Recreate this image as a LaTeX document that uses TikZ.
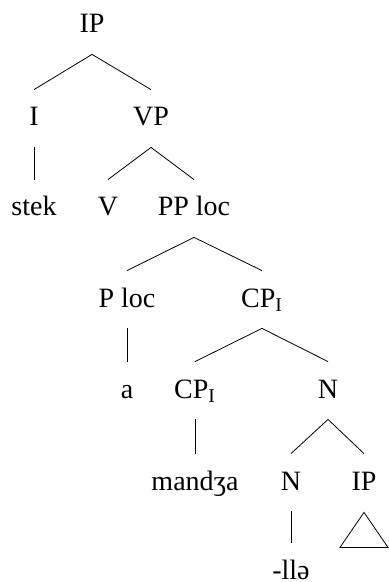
\documentclass[tikz,border=0pt]{standalone}
\usepackage{fontspec}
\setmainfont{Liberation Serif}
\begin{document}
\begin{tikzpicture}[x=0.5pt,y=-0.5pt,
    cat/.style={anchor=base,inner sep=0pt,text height=9pt,text depth=0pt,
      font=\fontsize{14}{16}\selectfont}]
  \useasboundingbox (0,0) rectangle (388,582);
  \node[cat] (ip) at (92,33) {IP}; % raiz
  \node[cat] (i) at (34,126) {I};
  \node[cat] (vp) at (151,126) {VP};
  \node[cat] (stek) at (34,216) {stek};
  \node[cat] (v) at (108,216) {V};
  \node[cat] (pp) at (194,216) {PP loc};
  \node[cat] (ploc) at (127,307) {P loc};
  \node[cat] (cpa) at (262,307) {CP\textsubscript{I}};
  \node[cat] (a) at (127,398) {a};
  \node[cat] (cpb) at (195,398) {CP\textsubscript{I}};
  \node[cat] (na) at (328,398) {N};
  \node[cat] (mandza) at (195,490) {mandʒa};
  \node[cat] (nb) at (291,490) {N};
  \node[cat] (ipb) at (364,490) {IP};
  \node[cat] (lle) at (291,579) {-llə};
  \foreach \p/\h in {ip/i,ip/vp,i/stek,vp/v,vp/pp,pp/ploc,pp/cpa,ploc/a,
      cpa/cpb,cpa/na,cpb/mandza,na/nb,na/ipb,nb/lle}
    \draw ([yshift=-10.5pt]\p.south) -- ([yshift=9pt]\h.north);
  \draw ([yshift=-11pt]ipb.south) -- ++(-12pt,-17.5pt) -- ++(24pt,0pt) -- cycle; % triangulo
\end{tikzpicture}
\end{document}
